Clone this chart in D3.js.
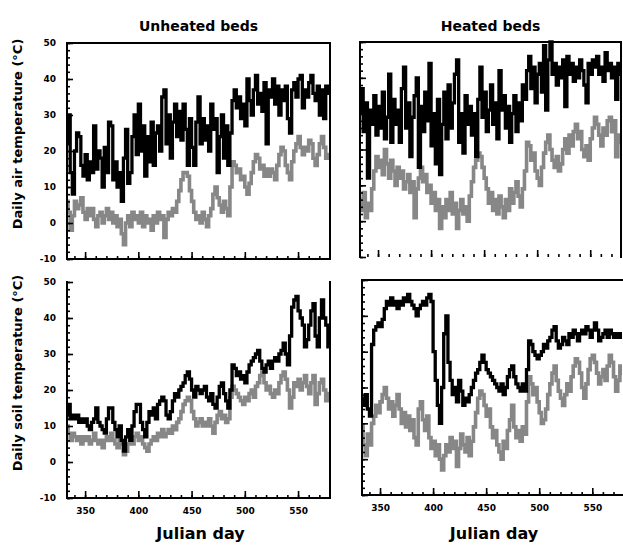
<!DOCTYPE html>
<html>
<head>
<meta charset="utf-8">
<script src="https://cdn.jsdelivr.net/npm/d3@7"></script>
<style>
  html, body { margin: 0; padding: 0; background: #fff; }
  svg { display: block; font-family: "DejaVu Sans", Verdana, sans-serif; font-weight: bold; }
</style>
</head>
<body>
<svg id="chart" width="623" height="545"></svg>
<script>
// Day index: series values are sampled every second Julian day from firstDay
const firstDay = 333;
const dayStep = 2;

const columnTitles = ["Unheated beds", "Heated beds"];
const rowTitles = ["Daily air temperature (°C)", "Daily soil temperature (°C)"];
const xTitle = "Julian day";
const xMajorTicks = [350, 400, 450, 500, 550];
const yMajorTicks = [-10, 0, 10, 20, 30, 40, 50];

// Daily maximum / minimum air temperature, unheated beds (°C)
const unheatedAirMax = [
  22, 30, 14, 8, 20, 25, 24, 16, 13, 19, 12, 17, 14,
  27, 15, 20, 18, 10, 21, 14, 28, 27, 12, 17, 10,
  14, 6, 18, 26, 11, 14, 24, 30, 19, 33, 20, 27,
  13, 24, 17, 28, 16, 25, 27, 20, 35, 37, 22, 30,
  18, 28, 33, 24, 31, 23, 33, 26, 16, 29, 21, 16,
  28, 35, 22, 29, 23, 27, 20, 33, 26, 29, 14, 24,
  30, 18, 27, 16, 25, 34, 37, 32, 35, 29, 33, 27,
  40, 34, 30, 37, 41, 33, 36, 31, 39, 22, 37, 35,
  40, 33, 38, 30, 37, 34, 38, 29, 25, 37, 39, 35,
  40, 41, 32, 37, 35, 39, 41, 36, 34, 38, 30, 37,
  29, 38, 36
];
const unheatedAirMin = [
  6, 3, -2, 2, 6, 4, 5, 7, 3, 1, 4, 2, 4,
  1, -1, 2, 3, 0, 2, 4, 1, 3, 0, 2, -1,
  1, -3, -6, 0, 2, -1, 3, 1, 2, 0, 3, -1,
  2, 0, 1, -2, 2, 0, 3, 1, 2, -4, 1, 3,
  2, 4, 3, 6, 9, 12, 14, 14, 13, 9, 6, 3,
  1, 2, 0, 3, 1, -1, 2, 4, 8, 10, 7, 5,
  3, 6, 4, 2, 10, 17, 16, 14, 15, 12, 13, 10,
  8, 11, 14, 17, 19, 18, 15, 16, 13, 15, 13, 15,
  14, 12, 16, 19, 21, 20, 16, 14, 12, 17, 20, 22,
  24, 21, 19, 21, 20, 23, 22, 18, 16, 19, 22, 24,
  21, 18, 19
];

// Daily maximum / minimum air temperature, heated beds (°C)
const heatedAirMax = [
  30, 37, 25, 33, 12, 31, 27, 35, 24, 32, 26, 36, 23,
  29, 41, 22, 34, 27, 31, 22, 37, 43, 26, 33, 18,
  29, 35, 40, 15, 32, 25, 36, 28, 44, 21, 30, 16,
  34, 13, 27, 36, 23, 38, 26, 33, 41, 45, 22, 30,
  19, 35, 27, 32, 24, 30, 18, 34, 43, 29, 36, 25,
  31, 38, 27, 33, 23, 42, 31, 35, 26, 32, 22, 30,
  35, 25, 33, 28, 38, 34, 42, 46, 37, 43, 33, 41,
  44, 36, 49, 31, 45, 50, 41, 44, 38, 43, 40, 45,
  32, 46, 41, 44, 39, 43, 40, 45, 42, 38, 33, 44,
  41, 45, 43, 46, 41, 43, 39, 47, 42, 44, 40, 43,
  34, 44, 41
];
const heatedAirMin = [
  6, 3, 8, 1, 5, 3, 9, 14, 18, 15, 17, 13, 20,
  16, 12, 17, 14, 10, 15, 12, 14, 9, 11, 13, 8,
  11, 1, 9, 12, 15, 11, 13, 8, 10, 5, 8, 3,
  6, -2, 4, 1, 6, 3, 8, 2, 5, -2, 3, 6,
  2, 4, 0, 7, 11, 15, 17, 19, 18, 15, 12, 9,
  5, 8, 3, 6, 2, 7, 4, 1, 6, 3, 9, 5,
  8, 11, 7, 4, 9, 14, 22, 21, 17, 19, 14, 12,
  10, 15, 19, 22, 24, 20, 17, 15, 18, 14, 16, 20,
  23, 19, 24, 21, 25, 27, 23, 25, 20, 18, 21, 17,
  23, 26, 29, 27, 24, 21, 26, 24, 28, 29, 25, 28,
  18, 24, 22
];

// Daily maximum / minimum soil temperature, unheated beds (°C)
const unheatedSoilMax = [
  13, 16, 12, 13, 12, 13, 11, 12, 11, 12, 10, 9, 11,
  12, 15, 11, 10, 9, 8, 12, 15, 15, 11, 9, 7,
  10, 6, 3, 7, 9, 6, 10, 14, 16, 16, 11, 9,
  7, 11, 14, 13, 15, 12, 16, 17, 18, 17, 13, 12,
  14, 17, 19, 18, 20, 21, 22, 24, 25, 23, 20, 18,
  21, 20, 19, 20, 21, 18, 17, 19, 16, 15, 18, 21,
  22, 19, 17, 15, 20, 27, 26, 24, 25, 23, 24, 22,
  25, 27, 28, 29, 30, 31, 28, 26, 25, 27, 28, 26,
  28, 29, 28, 30, 31, 33, 30, 27, 35, 43, 45, 46,
  42, 40, 38, 32, 34, 38, 42, 44, 35, 32, 40, 45,
  40, 38, 32
];
const unheatedSoilMin = [
  10, 8, 6, 8, 7, 6, 7, 5, 7, 6, 7, 5, 6,
  8, 6, 5, 6, 4, 6, 7, 6, 8, 6, 5, 4,
  6, 5, 2, 3, 5, 6, 5, 7, 8, 6, 7, 5,
  4, 3, 5, 6, 7, 6, 8, 7, 9, 7, 8, 9,
  8, 10, 9, 11, 12, 14, 16, 17, 18, 17, 14, 12,
  10, 11, 12, 10, 11, 10, 12, 10, 8, 11, 13, 14,
  12, 13, 11, 12, 18, 21, 20, 19, 18, 17, 16, 18,
  17, 19, 20, 18, 21, 22, 24, 25, 22, 20, 21, 19,
  18, 20, 19, 22, 24, 25, 23, 20, 15, 18, 22, 21,
  23, 20, 22, 24, 21, 19, 22, 24, 16, 19, 22, 23,
  20, 17, 19
];

// Daily maximum / minimum soil temperature, heated beds (°C)
const heatedSoilMax = [
  17, 15, 18, 14, 12, 32, 36, 37, 38, 37, 39, 42, 44,
  43, 45, 43, 44, 42, 44, 43, 45, 44, 46, 44, 43,
  42, 40, 42, 43, 44, 43, 45, 46, 44, 30, 22, 15,
  10, 20, 35, 40, 27, 22, 18, 20, 16, 22, 19, 15,
  17, 16, 18, 20, 22, 24, 25, 27, 29, 27, 25, 24,
  23, 22, 21, 20, 19, 21, 18, 20, 23, 25, 26, 23,
  21, 20, 19, 21, 19, 25, 33, 32, 30, 29, 28, 29,
  30, 32, 31, 33, 34, 36, 37, 33, 31, 32, 34, 33,
  32, 35, 34, 36, 35, 33, 35, 36, 35, 37, 36, 34,
  36, 38, 36, 33, 34, 35, 36, 34, 36, 35, 34, 35,
  34, 35, 34
];
const heatedSoilMin = [
  9, 4, 1, 7, 4, 10, 12, 15, 13, 16, 18, 20, 17,
  14, 16, 12, 15, 18, 14, 10, 13, 9, 12, 8, 11,
  6, 4, 14, 16, 11, 8, 12, 6, 3, 5, 1, 4,
  0, -3, 1, 4, 2, 6, 3, 5, -2, 3, 7, 4,
  2, 6, 1, 5, 9, 13, 17, 19, 18, 15, 12, 14,
  9, 6, 8, 4, 2, 0, 5, 3, 8, 11, 15, 9,
  6, 8, 5, 9, 7, 16, 23, 21, 18, 20, 16, 13,
  10, 11, 14, 18, 21, 24, 26, 22, 19, 17, 15, 18,
  21, 19, 23, 26, 28, 27, 24, 20, 17, 21, 25, 28,
  29, 27, 24, 21, 23, 25, 22, 26, 29, 27, 23, 19,
  22, 26, 24
];

const toPoints = values => values.map((v, i) => ({ day: firstDay + i * dayStep, value: v }));

// Panel layout (pixels) and which frame edges each panel shows
const panels = [
  { col: 0, row: 0, x0: 67,  x1: 330, y0: 43,  y1: 259, dayEnd: 580,
    black: unheatedAirMax, gray: unheatedAirMin,
    frame: { top: true, right: true, bottom: true, left: true } },
  { col: 1, row: 0, x0: 360, x1: 621, y0: 42,  y1: 257, dayEnd: 579,
    black: heatedAirMax, gray: heatedAirMin,
    frame: { top: true, right: true, bottom: false, left: true } },
  { col: 0, row: 1, x0: 67,  x1: 330, y0: 282, y1: 498, dayEnd: 580,
    black: unheatedSoilMax, gray: unheatedSoilMin,
    frame: { top: false, right: true, bottom: true, left: true } },
  { col: 1, row: 1, x0: 362, x1: 622, y0: 280, y1: 495, dayEnd: 578,
    black: heatedSoilMax, gray: heatedSoilMin,
    frame: { top: true, right: false, bottom: true, left: true } }
];

const svg = d3.select("#chart");
const ink = "#000";
const grayInk = "#878787";

function styleAxis(sel) {
  sel.select(".domain").remove();
  sel.attr("font-family", null).attr("font-size", null);
  sel.selectAll(".tick line").attr("stroke", ink).attr("stroke-width", 1.6);
  sel.selectAll(".tick text").attr("fill", ink).attr("font-size", 9).attr("font-weight", "bold");
}

panels.forEach((p, idx) => {
  const x = d3.scaleLinear().domain([firstDay, p.dayEnd]).range([p.x0, p.x1]);
  const y = d3.scaleLinear().domain([-10, 50]).range([p.y1, p.y0]);
  const g = svg.append("g");

  const clipId = "clip" + idx;
  svg.append("clipPath").attr("id", clipId)
    .append("rect").attr("x", p.x0).attr("y", p.y0 - 2)
    .attr("width", p.x1 - p.x0).attr("height", p.y1 - p.y0 + 2);

  const line = d3.line()
    .x(d => x(d.day))
    .y(d => y(d.value))
    .curve(d3.curveStep);

  const series = g.append("g").attr("clip-path", `url(#${clipId})`);
  series.append("path")
    .datum(toPoints(p.gray))
    .attr("d", line)
    .attr("fill", "none")
    .attr("stroke", grayInk)
    .attr("stroke-width", 3.6)
    .attr("stroke-linejoin", "miter");
  series.append("path")
    .datum(toPoints(p.black))
    .attr("d", line)
    .attr("fill", "none")
    .attr("stroke", ink)
    .attr("stroke-width", 3.3)
    .attr("stroke-linejoin", "miter");

  // y axis: minor ticks every 2 °C, major ticks every 10 °C, pointing inward
  g.append("g").attr("transform", `translate(${p.x0},0)`)
    .call(d3.axisLeft(y).tickValues(d3.range(-10, 51, 2)).tickSize(-3).tickFormat(""))
    .call(styleAxis);
  g.append("g").attr("transform", `translate(${p.x0},0)`)
    .call(d3.axisLeft(y).tickValues(yMajorTicks).tickSize(-6).tickPadding(11)
      .tickFormat(p.col === 0 ? d => String(d) : () => ""))
    .call(styleAxis);

  // x axis: minor ticks every 10 days, major ticks every 50 days, pointing inward
  g.append("g").attr("transform", `translate(0,${p.y1})`)
    .call(d3.axisBottom(x).tickValues(d3.range(340, 571, 10)).tickSize(-3).tickFormat(""))
    .call(styleAxis);
  g.append("g").attr("transform", `translate(0,${p.y1})`)
    .call(d3.axisBottom(x).tickValues(xMajorTicks).tickSize(-7).tickPadding(10)
      .tickFormat(p.row === 1 ? d => String(d) : () => ""))
    .call(styleAxis);

  // panel frame
  const edges = [];
  if (p.frame.top) edges.push([p.x0, p.y0, p.x1, p.y0]);
  if (p.frame.right) edges.push([p.x1, p.y0, p.x1, p.y1]);
  if (p.frame.bottom) edges.push([p.x0, p.y1, p.x1, p.y1]);
  if (p.frame.left) edges.push([p.x0, p.y0, p.x0, p.y1]);
  g.selectAll("line.frame").data(edges).join("line")
    .attr("class", "frame")
    .attr("x1", d => d[0]).attr("y1", d => d[1])
    .attr("x2", d => d[2]).attr("y2", d => d[3])
    .attr("stroke", ink).attr("stroke-width", 2)
    .attr("stroke-linecap", "square");

  if (p.row === 0) {
    svg.append("text")
      .attr("x", (p.x0 + p.x1) / 2).attr("y", 31)
      .attr("text-anchor", "middle").attr("font-size", 14)
      .text(columnTitles[p.col]);
  }
  if (p.row === 1) {
    svg.append("text")
      .attr("x", (p.x0 + p.x1) / 2 + 2).attr("y", 539)
      .attr("text-anchor", "middle").attr("font-size", 16)
      .text(xTitle);
  }
  if (p.col === 0) {
    const cy = (p.y0 + p.y1) / 2 - 17;
    svg.append("text")
      .attr("transform", `translate(22,${cy}) rotate(-90)`)
      .attr("text-anchor", "middle").attr("font-size", 13)
      .text(rowTitles[p.row]);
  }
});
</script>
</body>
</html>
